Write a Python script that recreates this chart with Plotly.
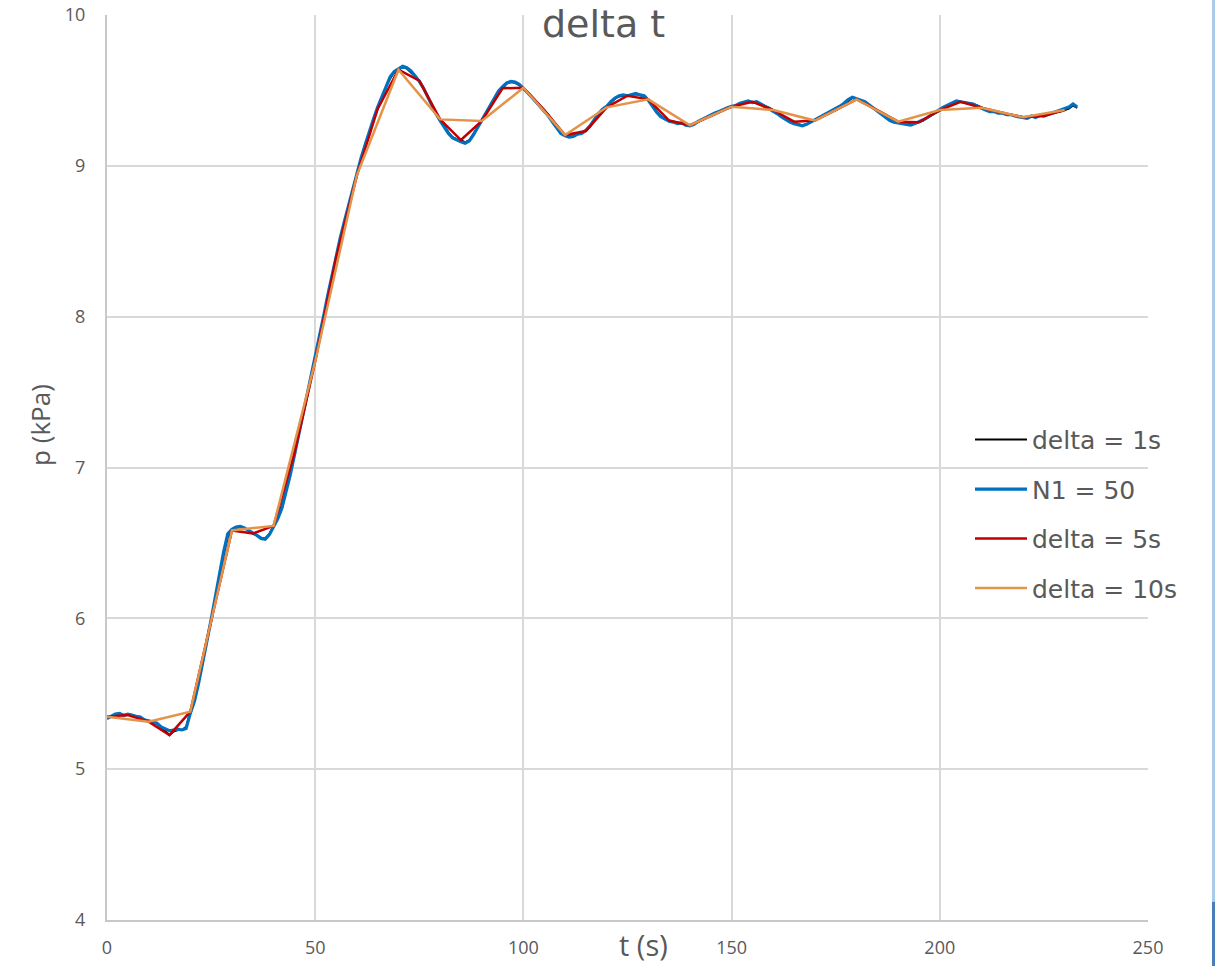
import plotly.graph_objects as go

# Pressure readings p (kPa) against time t (s)
t_1s = list(range(0, 234))

p_delta1 = [
    5.348, 5.35, 5.36, 5.37, 5.36, 5.359, 5.36, 5.35, 5.34, 5.33,
    5.315, 5.31, 5.30, 5.28, 5.25, 5.226, 5.25, 5.26, 5.26, 5.28,
    5.381, 5.46, 5.58, 5.71, 5.85, 5.984, 6.13, 6.28, 6.42, 6.54,
    6.583, 6.60, 6.605, 6.60, 6.58, 6.562, 6.55, 6.535, 6.53, 6.56,
    6.613, 6.67, 6.75, 6.85, 6.97, 7.095, 7.22, 7.35, 7.47, 7.59,
    7.703, 7.84, 7.98, 8.12, 8.26, 8.388, 8.50, 8.62, 8.73, 8.84,
    8.937, 9.03, 9.12, 9.21, 9.30, 9.377, 9.45, 9.52, 9.58, 9.62,
    9.637, 9.655, 9.645, 9.62, 9.59, 9.565, 9.52, 9.46, 9.40, 9.35,
    9.308, 9.26, 9.22, 9.19, 9.175, 9.171, 9.155, 9.17, 9.21, 9.25,
    9.297, 9.35, 9.40, 9.45, 9.49, 9.514, 9.545, 9.555, 9.55, 9.535,
    9.518, 9.49, 9.46, 9.43, 9.40, 9.370, 9.34, 9.30, 9.26, 9.225,
    9.204, 9.195, 9.20, 9.21, 9.22, 9.231, 9.26, 9.30, 9.34, 9.37,
    9.388, 9.42, 9.445, 9.46, 9.465, 9.465, 9.47, 9.475, 9.47, 9.46,
    9.441, 9.40, 9.36, 9.33, 9.31, 9.30, 9.29, 9.285, 9.28, 9.275,
    9.269, 9.28, 9.29, 9.305, 9.32, 9.330, 9.345, 9.36, 9.37, 9.38,
    9.392, 9.40, 9.41, 9.42, 9.425, 9.425, 9.42, 9.41, 9.40, 9.385,
    9.370, 9.35, 9.33, 9.31, 9.295, 9.293, 9.275, 9.27, 9.275, 9.29,
    9.30, 9.32, 9.335, 9.35, 9.36, 9.370, 9.39, 9.41, 9.43, 9.45,
    9.441, 9.43, 9.42, 9.40, 9.385, 9.370, 9.35, 9.33, 9.305, 9.295,
    9.293, 9.285, 9.28, 9.275, 9.28, 9.289, 9.30, 9.32, 9.335, 9.355,
    9.370, 9.385, 9.40, 9.415, 9.425, 9.425, 9.42, 9.415, 9.41, 9.40,
    9.385, 9.375, 9.365, 9.36, 9.355, 9.352, 9.345, 9.34, 9.335, 9.33,
    9.322, 9.32, 9.33, 9.325, 9.33, 9.330, 9.34, 9.35, 9.355, 9.36,
    9.370, 9.38, 9.40, 9.385,
]

p_n1_50 = [
    5.335, 5.35, 5.365, 5.37, 5.355, 5.365, 5.355, 5.35, 5.345, 5.325,
    5.32, 5.31, 5.305, 5.28, 5.265, 5.255, 5.26, 5.265, 5.26, 5.27,
    5.37, 5.45, 5.57, 5.70, 5.85, 5.99, 6.14, 6.29, 6.44, 6.56,
    6.59, 6.605, 6.61, 6.60, 6.585, 6.565, 6.55, 6.53, 6.525, 6.555,
    6.61, 6.66, 6.73, 6.83, 6.95, 7.08, 7.21, 7.35, 7.48, 7.60,
    7.72, 7.86, 8.00, 8.14, 8.27, 8.40, 8.52, 8.63, 8.74, 8.85,
    8.95, 9.05, 9.14, 9.23, 9.31, 9.39, 9.46, 9.52, 9.59, 9.625,
    9.64, 9.66, 9.65, 9.63, 9.595, 9.56, 9.515, 9.455, 9.395, 9.345,
    9.30, 9.255, 9.215, 9.185, 9.17, 9.16, 9.15, 9.165, 9.205, 9.255,
    9.30, 9.355, 9.405, 9.455, 9.495, 9.525, 9.55, 9.56, 9.555, 9.54,
    9.515, 9.485, 9.455, 9.425, 9.395, 9.365, 9.33, 9.29, 9.25, 9.215,
    9.20, 9.19, 9.195, 9.21, 9.215, 9.235, 9.265, 9.305, 9.345, 9.375,
    9.395, 9.425, 9.45, 9.465, 9.47, 9.465, 9.475, 9.48, 9.47, 9.465,
    9.435, 9.395, 9.355, 9.325, 9.31, 9.295, 9.29, 9.28, 9.285, 9.27,
    9.265, 9.275, 9.295, 9.31, 9.32, 9.335, 9.35, 9.36, 9.375, 9.385,
    9.395, 9.40, 9.415, 9.42, 9.43, 9.42, 9.425, 9.41, 9.395, 9.38,
    9.365, 9.345, 9.325, 9.305, 9.29, 9.28, 9.27, 9.265, 9.275, 9.29,
    9.30, 9.315, 9.335, 9.35, 9.365, 9.375, 9.395, 9.415, 9.44, 9.455,
    9.445, 9.44, 9.425, 9.405, 9.385, 9.365, 9.345, 9.325, 9.30, 9.29,
    9.285, 9.28, 9.275, 9.27, 9.28, 9.29, 9.305, 9.32, 9.34, 9.36,
    9.375, 9.39, 9.405, 9.42, 9.43, 9.425, 9.42, 9.42, 9.41, 9.395,
    9.38, 9.37, 9.36, 9.36, 9.35, 9.35, 9.34, 9.34, 9.33, 9.325,
    9.32, 9.315, 9.33, 9.32, 9.335, 9.33, 9.34, 9.35, 9.355, 9.365,
    9.375, 9.39, 9.41, 9.39,
]

t_5s = [0, 5, 10, 15, 20, 25, 30, 35, 40, 45, 50, 55, 60, 65, 70, 75, 80, 85,
        90, 95, 100, 105, 110, 115, 120, 125, 130, 135, 140, 145, 150, 155,
        160, 165, 170, 175, 180, 185, 190, 195, 200, 205, 210, 215, 220, 225, 230]
p_delta5 = [5.348, 5.359, 5.315, 5.226, 5.381, 5.984, 6.583, 6.562, 6.613, 7.095,
            7.703, 8.388, 8.937, 9.377, 9.637, 9.565, 9.308, 9.171, 9.297, 9.514,
            9.518, 9.370, 9.204, 9.231, 9.388, 9.465, 9.441, 9.30, 9.269, 9.330,
            9.392, 9.425, 9.370, 9.293, 9.30, 9.370, 9.441, 9.370, 9.293, 9.289,
            9.370, 9.425, 9.385, 9.352, 9.322, 9.330, 9.370]

t_10s = [0, 10, 20, 30, 40, 50, 60, 70, 80, 90, 100, 110, 120, 130, 140, 150,
         160, 170, 180, 190, 200, 210, 220, 230]
p_delta10 = [5.348, 5.315, 5.381, 6.583, 6.613, 7.703, 8.937, 9.637, 9.308, 9.297,
             9.518, 9.204, 9.388, 9.441, 9.269, 9.392, 9.370, 9.30, 9.441, 9.293,
             9.370, 9.385, 9.322, 9.370]

x_ticks = [0, 50, 100, 150, 200, 250]
y_ticks = [4, 5, 6, 7, 8, 9, 10]

FONT = "Open Sans"
WIDE = "DejaVu Sans"
GREY = "#595959"

fig = go.Figure()
fig.add_trace(go.Scatter(x=t_1s, y=p_delta1, mode="lines", name="delta = 1s",
                         legendgroup="a", line=dict(color="#000000", width=2)))
fig.add_trace(go.Scatter(x=t_1s, y=p_n1_50, mode="lines", name="N1 = 50",
                         legendgroup="b", line=dict(color="#0070C0", width=3.2)))
fig.add_trace(go.Scatter(x=t_5s, y=p_delta5, mode="lines", name="delta = 5s",
                         legendgroup="c", line=dict(color="#C00000", width=2.5)))
fig.add_trace(go.Scatter(x=t_10s, y=p_delta10, mode="lines", name="delta = 10s",
                         legendgroup="d", line=dict(color="#E3934A", width=2.5)))

fig.update_layout(
    width=1215, height=966,
    margin=dict(l=107, r=67, t=15, b=46),
    paper_bgcolor="white", plot_bgcolor="white",
    font=dict(family=FONT, color=GREY, size=18),
    showlegend=True,
    legend=dict(
        x=0.829, y=0.556, xanchor="left", yanchor="top",
        font=dict(family=WIDE, size=25, color=GREY),
        bgcolor="rgba(0,0,0,0)", tracegroupgap=14, itemwidth=52,
    ),
    xaxis=dict(
        range=[0, 250], tickvals=x_ticks, ticktext=[str(v) for v in x_ticks],
        showgrid=True, gridcolor="#d9d9d9", gridwidth=1.5,
        showline=True, linecolor="#c8c8c8", linewidth=2,
        zeroline=False, ticks="", ticklabelstandoff=10, automargin=False,
        tickfont=dict(family=FONT, size=18, color=GREY),
    ),
    yaxis=dict(
        range=[4, 10], tickvals=y_ticks, ticktext=[str(v) for v in y_ticks],
        showgrid=True, gridcolor="#d9d9d9", gridwidth=1.5,
        showline=True, linecolor="#c8c8c8", linewidth=2,
        zeroline=False, ticks="", ticklabelstandoff=16, automargin=False,
        tickfont=dict(family=FONT, size=18, color=GREY),
    ),
    annotations=[
        dict(text="delta t", x=0.4765, y=1.0166, xref="paper", yref="paper",
             xanchor="center", yanchor="top", showarrow=False,
             font=dict(family=WIDE, size=38, color=GREY)),
        dict(text="p (kPa)", x=-0.0644, y=0.547, xref="paper", yref="paper",
             xanchor="center", yanchor="middle", textangle=-90, showarrow=False,
             font=dict(family=FONT, size=26, color=GREY)),
        dict(text="t (s)", x=0.5149, y=-0.0276, xref="paper", yref="paper",
             xanchor="center", yanchor="middle", showarrow=False,
             font=dict(family=FONT, size=29, color=GREY)),
    ],
    shapes=[
        dict(type="rect", xref="paper", yref="paper", x0=1.0615, x1=1.07,
             y0=-0.06, y1=1.03, line=dict(width=0), fillcolor="#a9cbe9", layer="above"),
        dict(type="rect", xref="paper", yref="paper", x0=1.0615, x1=1.07,
             y0=-0.06, y1=0.02, line=dict(width=0), fillcolor="#4a7ebb", layer="above"),
    ],
)

fig.write_html("out.html")
